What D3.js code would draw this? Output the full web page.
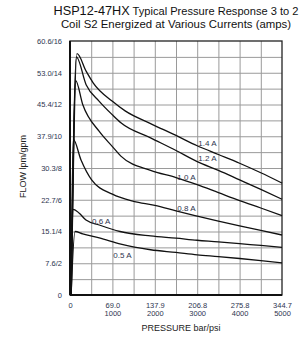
<!DOCTYPE html>
<html>
<head>
<meta charset="utf-8">
<script src="https://cdn.jsdelivr.net/npm/d3@7.9.0/dist/d3.min.js"></script>
<style>
  body { margin: 0; background: #fff; }
  svg { display: block; font-family: "Liberation Sans", Arial, sans-serif; }
</style>
</head>
<body>
<svg id="chart" width="308" height="340"></svg>
<script>
// pressure in psi, flow in gpm
const pressurePsi = {
  a14: [30, 165, 380, 550, 1000, 1300, 1900, 2500, 3000, 3500, 4000, 4500, 5000],
  a12: [30, 150, 380, 690, 1000, 1200, 1900, 2500, 3000, 3500, 4000, 4500, 5000],
  a10: [28, 134, 300, 690, 1000, 1200, 1900, 2500, 3000, 3500, 4000, 4500, 5000],
  a08: [20, 78, 260, 510, 1000, 1500, 2000, 2500, 3000, 3500, 4000, 4500, 5000],
  a06: [15, 78, 220, 377, 690, 1180, 1900, 2500, 3000, 3500, 4000, 4500, 5000],
  a05: [25, 118, 300, 690, 1200, 1900, 2500, 3000, 3500, 4000, 4500, 5000]
};
const flow14 = [0, 15.2, 14.1, 13.35, 12.2, 11.6, 10.8, 10.05, 9.4, 8.85, 8.3, 7.7, 7.05];
const flow12 = [0, 15.0, 13.25, 12.2, 11.35, 10.85, 9.9, 9.1, 8.4, 7.85, 7.25, 6.65, 6.03];
const flow10 = [0, 13.5, 12.0, 10.3, 9.35, 8.75, 7.85, 7.4, 6.95, 6.45, 5.95, 5.48, 5.0];
const flow08 = [0, 9.8, 8.5, 7.25, 6.35, 5.9, 5.65, 5.3, 4.97, 4.65, 4.35, 4.07, 3.78];
const flow06 = [0, 5.4, 5.15, 4.72, 4.41, 4.0, 3.72, 3.58, 3.45, 3.35, 3.23, 3.12, 3.0];
const flow05 = [0, 4.0, 3.85, 3.6, 3.2, 2.85, 2.68, 2.53, 2.42, 2.3, 2.17, 2.03];

const currents = ["1.4 A", "1.2 A", "1.0 A", "0.8 A", "0.6 A", "0.5 A"];
// where each current label sits (psi, gpm)
const labelPsi = [3026, 3026, 2531, 2531, 519, 1021];
const labelGpm = [9.39, 8.41, 7.24, 5.32, 4.5, 2.36];

const gpmTicks = [0, 2, 4, 6, 8, 10, 12, 14, 16];
const lpmLabels = ["0", "7.6", "15.1", "22.7", "30.3", "37.9", "45.4", "53.0", "60.6"];
const psiTicks = [0, 1000, 2000, 3000, 4000, 5000];
const barLabels = ["0", "69.0", "137.9", "206.8", "275.8", "344.7"];

const series = [
  [pressurePsi.a14, flow14],
  [pressurePsi.a12, flow12],
  [pressurePsi.a10, flow10],
  [pressurePsi.a08, flow08],
  [pressurePsi.a06, flow06],
  [pressurePsi.a05, flow05]
];

const svg = d3.select('#chart');
const plotL = 70, plotR = 282, plotT = 41, plotB = 295;

const x = d3.scaleLinear().domain([0, 5000]).range([plotL, plotR]);
const y = d3.scaleLinear().domain([0, 16]).range([plotB, plotT]);

// title
const title = svg.append('text')
  .attr('x', 176).attr('y', 14.5)
  .attr('text-anchor', 'middle')
  .attr('fill', '#111');
title.append('tspan').attr('font-size', 12.7).text('HSP12-47HX');
title.append('tspan').attr('font-size', 11.1).text(' Typical Pressure Response 3 to 2');

svg.append('text')
  .attr('x', 176).attr('y', 27.5)
  .attr('text-anchor', 'middle')
  .attr('font-size', 11.4)
  .attr('fill', '#111')
  .text('Coil S2 Energized at Various Currents (amps)');

// grid
svg.append('g')
  .attr('transform', `translate(${plotL},0)`)
  .call(d3.axisLeft(y).tickValues(d3.range(1, 16)).tickSize(-(plotR - plotL)).tickFormat(''))
  .call(g => g.select('.domain').remove())
  .call(g => g.selectAll('line').attr('stroke', '#9a9a9a').attr('stroke-width', 1));

svg.append('g')
  .attr('transform', `translate(0,${plotB})`)
  .call(d3.axisBottom(x).tickValues(d3.range(500, 5000, 500)).tickSize(-(plotB - plotT)).tickFormat(''))
  .call(g => g.select('.domain').remove())
  .call(g => g.selectAll('line').attr('stroke', '#9a9a9a').attr('stroke-width', 1));

// frame
svg.append('rect')
  .attr('x', plotL).attr('y', plotT)
  .attr('width', plotR - plotL).attr('height', plotB - plotT)
  .attr('fill', 'none').attr('stroke', '#222').attr('stroke-width', 1.3);
svg.append('line')
  .attr('x1', plotL).attr('x2', plotL).attr('y1', plotT).attr('y2', plotB)
  .attr('stroke', '#111').attr('stroke-width', 2);
svg.append('line')
  .attr('x1', plotL).attr('x2', plotR).attr('y1', plotB).attr('y2', plotB)
  .attr('stroke', '#111').attr('stroke-width', 2);

// y tick labels
svg.append('g')
  .attr('transform', `translate(${plotL},0)`)
  .call(d3.axisLeft(y).tickValues(gpmTicks).tickSize(0).tickPadding(8)
    .tickFormat((d, i) => i === 0 ? '0' : `${lpmLabels[i]}/${d}`))
  .call(g => g.select('.domain').remove())
  .call(g => g.selectAll('text')
    .attr('font-family', '"Liberation Sans", Arial, sans-serif')
    .attr('font-size', 7.5).attr('fill', '#2e3550'));

// x tick labels (bar over psi)
const xAxis = svg.append('g')
  .attr('transform', `translate(0,${plotB})`)
  .call(d3.axisBottom(x).tickValues(psiTicks).tickSize(0).tickPadding(8).tickFormat(''))
  .call(g => g.select('.domain').remove());
xAxis.selectAll('.tick').each(function (d, i) {
  const t = d3.select(this).select('text')
    .attr('dy', null)
    .attr('font-family', '"Liberation Sans", Arial, sans-serif')
    .attr('font-size', 7.5).attr('fill', '#2e3550');
  t.append('tspan').attr('x', 0).attr('dy', 4.5).text(barLabels[i]);
  if (i > 0) t.append('tspan').attr('x', 0).attr('dy', 8).text(d);
});

// axis titles
svg.append('text')
  .attr('x', 181).attr('y', 330.5)
  .attr('text-anchor', 'middle')
  .attr('font-size', 9).attr('fill', '#222')
  .text('PRESSURE bar/psi');

svg.append('text')
  .attr('transform', 'translate(26,166.5) rotate(-90)')
  .attr('text-anchor', 'middle')
  .attr('font-size', 9).attr('fill', '#222')
  .text('FLOW lpm/gpm');

// curves
const line = d3.line()
  .x(d => x(d[0]))
  .y(d => y(d[1]))
  .curve(d3.curveMonotoneX);

series.forEach(([psi, gpm]) => {
  svg.append('path')
    .datum(psi.map((p, i) => [p, gpm[i]]))
    .attr('d', line)
    .attr('fill', 'none')
    .attr('stroke', '#111')
    .attr('stroke-width', 1.3);
});

// current labels
currents.forEach((c, i) => {
  svg.append('text')
    .attr('x', x(labelPsi[i]))
    .attr('y', y(labelGpm[i]))
    .attr('font-size', 8)
    .attr('fill', '#2e3550')
    .text(c);
});
</script>
</body>
</html>
